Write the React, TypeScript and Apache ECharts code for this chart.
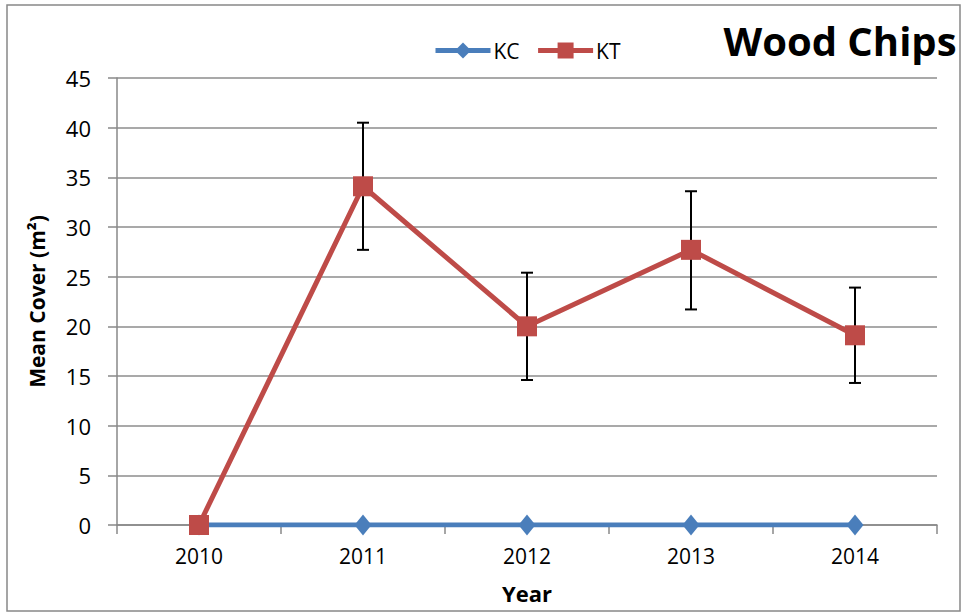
import React, { useEffect, useRef } from "react";
import * as echarts from "echarts";

const years = ["2010", "2011", "2012", "2013", "2014"];
const kc = [0, 0, 0, 0, 0];
const kt = [0, 34.1, 20.0, 27.7, 19.1];
const ktLow: (number | null)[] = [null, 27.7, 14.6, 21.7, 14.3];
const ktHigh: (number | null)[] = [null, 40.5, 25.4, 33.6, 23.9];

const FONT = "'Open Sans', 'Noto Sans', sans-serif";

export default function App() {
  const ref = useRef<HTMLDivElement>(null);
  useEffect(() => {
    if (!ref.current) return;
    const chart = echarts.init(ref.current, null, { renderer: "svg" });
    const errData = years
      .map((_, i) => (ktLow[i] == null ? null : [i, ktLow[i], ktHigh[i]]))
      .filter((d) => d != null);
    chart.setOption({
      animation: false,
      backgroundColor: "#fff",
      textStyle: { fontFamily: FONT },
      graphic: [
        {
          type: "rect",
          shape: { x: 7, y: 5, width: 953, height: 606 },
          style: { fill: "none", stroke: "#888", lineWidth: 1.5 },
          silent: true,
        },
        {
          type: "text",
          x: 840,
          y: 40,
          style: {
            text: "Wood Chips",
            font: `bold 40px ${FONT}`,
            fill: "#000",
            align: "center",
            verticalAlign: "middle",
          },
        },
      ],
      legend: {
        left: 428,
        top: 35,
        itemWidth: 55,
        itemHeight: 20,
        itemGap: 16,
        lineStyle: { width: 5 },
        textStyle: { fontSize: 21, color: "#000", fontFamily: FONT, padding: [0, 0, 0, -2] },
        data: ["KC", "KT"],
      },
      grid: { left: 117, right: 25, top: 78, bottom: 88, containLabel: false },
      xAxis: {
        type: "category",
        data: years,
        boundaryGap: true,
        name: "Year",
        nameLocation: "middle",
        nameGap: 57,
        nameTextStyle: { fontSize: 22, fontWeight: "bold", color: "#000", fontFamily: FONT },
        axisLine: { lineStyle: { color: "#888", width: 1.5 } },
        axisTick: { show: true, length: 9, lineStyle: { color: "#888", width: 1.5 } },
        axisLabel: { fontSize: 21, color: "#000", margin: 20, fontFamily: FONT },
      },
      yAxis: {
        type: "value",
        min: 0,
        max: 45,
        interval: 5,
        name: "Mean Cover (m²)",
        nameLocation: "middle",
        nameGap: 70,
        nameTextStyle: { fontSize: 21, fontWeight: "bold", color: "#000", fontFamily: FONT },
        axisLine: { show: true, lineStyle: { color: "#888", width: 1.5 } },
        axisTick: { show: true, length: 9, lineStyle: { color: "#888", width: 1.5 } },
        axisLabel: { fontSize: 22, color: "#000", margin: 26, fontFamily: FONT },
        splitLine: { show: true, lineStyle: { color: "#8c8c8c", width: 1.5 } },
      },
      series: [
        {
          type: "custom",
          name: "err",
          z: 1,
          data: errData,
          renderItem: (params: any, api: any) => {
            const i = api.value(0);
            const lo = api.coord([i, api.value(1)]);
            const hi = api.coord([i, api.value(2)]);
            const cap = 6;
            const style = { stroke: "#000", lineWidth: 2 };
            return {
              type: "group",
              children: [
                { type: "line", shape: { x1: lo[0], y1: lo[1], x2: hi[0], y2: hi[1] }, style },
                { type: "line", shape: { x1: hi[0] - cap, y1: hi[1], x2: hi[0] + cap, y2: hi[1] }, style },
                { type: "line", shape: { x1: lo[0] - cap, y1: lo[1], x2: lo[0] + cap, y2: lo[1] }, style },
              ],
            };
          },
        },
        {
          type: "line",
          name: "KC",
          z: 2,
          data: kc,
          symbol: "diamond",
          symbolSize: [17, 21],
          color: "#4A7EBB",
          lineStyle: { color: "#4A7EBB", width: 5 },
          itemStyle: { color: "#4A7EBB" },
        },
        {
          type: "line",
          name: "KT",
          z: 3,
          data: kt,
          symbol: "rect",
          symbolSize: 20,
          color: "#BE4B48",
          lineStyle: { color: "#BE4B48", width: 5 },
          itemStyle: { color: "#BE4B48" },
        },
      ],
    });
    return () => chart.dispose();
  }, []);
  return (
    <div
      ref={ref}
      style={{ position: "fixed", left: 0, top: 0, width: 962, height: 613 }}
    />
  );
}
